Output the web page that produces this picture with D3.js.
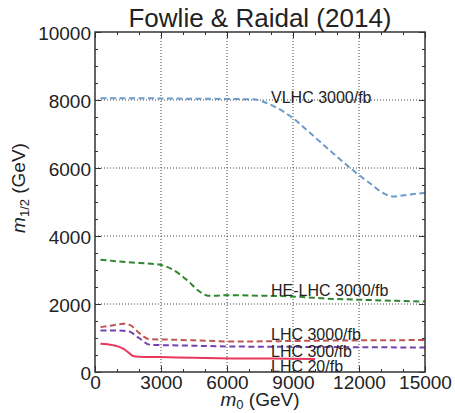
<!DOCTYPE html>
<html>
<head>
<meta charset="utf-8">
<script src="https://cdn.jsdelivr.net/npm/d3@7"></script>
<style>
  body { margin: 0; background: #fff; }
  text { font-family: "Liberation Sans", Arial, sans-serif; fill: #222; }
</style>
</head>
<body>
<div id="chart"></div>
<script>
const margin = { top: 32, right: 30, bottom: 41, left: 95 };
const width = 455 - margin.left - margin.right;
const height = 413 - margin.top - margin.bottom;

// values (GeV)
const vlhcM0  = [250, 2000, 4000, 6000, 7200, 7650, 8180, 9010, 9620, 10230, 10830, 11440, 11900, 12500, 13100, 13560, 14170, 15000];
const vlhcM12 = [8050, 8050, 8040, 8030, 8020, 7950, 7800, 7460, 7120, 6770, 6430, 6090, 5840, 5550, 5260, 5160, 5210, 5270];

const heM0  = [250, 1500, 3000, 3560, 4170, 4770, 5150, 5400, 6000, 7000, 9300, 10500, 12300, 15000];
const heM12 = [3300, 3230, 3150, 3000, 2710, 2360, 2240, 2240, 2260, 2250, 2210, 2160, 2120, 2070];

const lhc3000M0  = [250, 800, 1300, 1600, 2000, 2450, 3500, 5000, 6300, 8000, 10000, 12000, 15000];
const lhc3000M12 = [1320, 1370, 1420, 1380, 1150, 970, 950, 920, 895, 905, 920, 930, 940];

const lhc300M0  = [250, 1000, 1500, 2000, 2500, 4000, 6300, 9000, 12000, 15000];
const lhc300M12 = [1220, 1220, 1200, 1000, 800, 780, 750, 740, 730, 720];

const lhc20M0  = [250, 800, 1300, 1550, 1700, 2000, 2900, 4500, 6300, 8000, 10000];
const lhc20M12 = [830, 790, 680, 560, 480, 450, 440, 420, 400, 395, 385];

const labelText = ["VLHC 3000/fb", "HE-LHC 3000/fb", "LHC 3000/fb", "LHC 300/fb", "LHC 20/fb"];
const labelM0   = [8000, 8000, 8000, 8000, 8000];
const labelM12  = [7900, 2240, 940, 430, 10];

const xTicks = [0, 3000, 6000, 9000, 12000, 15000];
const yTicks = [0, 2000, 4000, 6000, 8000, 10000];

const series = [
  { m0: vlhcM0, m12: vlhcM12, color: "#6a9bcb", dash: "6,3.5" },
  { m0: heM0, m12: heM12, color: "#2e872e", dash: "6,3.5" },
  { m0: lhc3000M0, m12: lhc3000M12, color: "#bf5553", dash: "6,3.5" },
  { m0: lhc300M0, m12: lhc300M12, color: "#7540b0", dash: "6,3.5" },
  { m0: lhc20M0, m12: lhc20M12, color: "#e8365e", dash: null }
];

const svg = d3.select("#chart")
    .append("svg")
    .attr("width", 455)
    .attr("height", 413)
    .append("g")
    .attr("transform", `translate(${margin.left},${margin.top})`);

const x = d3.scaleLinear().domain([0, 15000]).range([0, width]);
const y = d3.scaleLinear().domain([0, 10000]).range([height, 0]);

// grid
svg.append("g")
    .selectAll("line")
    .data(xTicks.slice(1, -1))
    .enter()
    .append("line")
    .attr("x1", d => x(d)).attr("x2", d => x(d))
    .attr("y1", 0).attr("y2", height)
    .attr("stroke", "#444")
    .attr("stroke-width", 1)
    .attr("stroke-dasharray", "1,2");

svg.append("g")
    .selectAll("line")
    .data(yTicks.slice(1, -1))
    .enter()
    .append("line")
    .attr("x1", 0).attr("x2", width)
    .attr("y1", d => y(d)).attr("y2", d => y(d))
    .attr("stroke", "#444")
    .attr("stroke-width", 1)
    .attr("stroke-dasharray", "1,2");

// curves
const line = d3.line()
    .x(d => x(d[0]))
    .y(d => y(d[1]))
    .curve(d3.curveMonotoneX);

series.forEach(s => {
  svg.append("path")
      .datum(s.m0.map((v, i) => [v, s.m12[i]]))
      .attr("d", line)
      .attr("fill", "none")
      .attr("stroke", s.color)
      .attr("stroke-width", 2)
      .attr("stroke-dasharray", s.dash);
});

// line labels
svg.append("g")
    .selectAll("text")
    .data(labelText)
    .enter()
    .append("text")
    .attr("x", (d, i) => x(labelM0[i]))
    .attr("y", (d, i) => y(labelM12[i]))
    .attr("font-size", "16px")
    .text(d => d);

// axes, ticks pointing inward
const xMinor = d3.range(0, 15001, 1000);
const yMinor = d3.range(0, 10001, 500);

svg.append("g")
    .attr("transform", `translate(0,${height})`)
    .call(d3.axisBottom(x).tickValues(xMinor).tickSize(-3).tickFormat(""))
    .call(g => g.select(".domain").remove());
svg.append("g")
    .call(d3.axisTop(x).tickValues(xMinor).tickSize(-3).tickFormat(""))
    .call(g => g.select(".domain").remove());
svg.append("g")
    .call(d3.axisLeft(y).tickValues(yMinor).tickSize(-3).tickFormat(""))
    .call(g => g.select(".domain").remove());
svg.append("g")
    .attr("transform", `translate(${width},0)`)
    .call(d3.axisRight(y).tickValues(yMinor).tickSize(-3).tickFormat(""))
    .call(g => g.select(".domain").remove());

const xAxis = svg.append("g")
    .attr("transform", `translate(0,${height})`)
    .call(d3.axisBottom(x).tickValues(xTicks).tickSize(-6).tickPadding(4).tickFormat(d3.format("d")));
xAxis.select(".domain").remove();
xAxis.selectAll("text").attr("font-size", "19px").attr("fill", "#222");

const yAxis = svg.append("g")
    .call(d3.axisLeft(y).tickValues(yTicks).tickSize(-6).tickPadding(4).tickFormat(d3.format("d")));
yAxis.select(".domain").remove();
yAxis.selectAll("text").attr("font-size", "19px").attr("fill", "#222").attr("dy", "0.4em");

svg.append("g")
    .call(d3.axisTop(x).tickValues(xTicks).tickSize(-6).tickFormat(""))
    .call(g => g.select(".domain").remove());
svg.append("g")
    .attr("transform", `translate(${width},0)`)
    .call(d3.axisRight(y).tickValues(yTicks).tickSize(-6).tickFormat(""))
    .call(g => g.select(".domain").remove());

svg.selectAll(".tick line").attr("stroke", "#333");

// frame
svg.append("rect")
    .attr("width", width)
    .attr("height", height)
    .attr("fill", "none")
    .attr("stroke", "#333")
    .attr("stroke-width", 1.5);

// titles
svg.append("text")
    .attr("x", width / 2)
    .attr("y", -5)
    .attr("text-anchor", "middle")
    .attr("font-size", "26px")
    .text("Fowlie & Raidal (2014)");

const xLabel = svg.append("text")
    .attr("x", width / 2)
    .attr("y", height + 34)
    .attr("text-anchor", "middle")
    .attr("font-size", "19px");
xLabel.append("tspan").attr("font-style", "italic").text("m");
xLabel.append("tspan").attr("font-size", "13px").attr("dy", "3").text("0");
xLabel.append("tspan").attr("dy", "-3").text(" (GeV)");

const yLabel = svg.append("text")
    .attr("transform", `translate(${-70},${156}) rotate(-90)`)
    .attr("text-anchor", "middle")
    .attr("font-size", "19px");
yLabel.append("tspan").attr("font-style", "italic").text("m");
yLabel.append("tspan").attr("font-size", "13px").attr("dy", "4").text("1/2");
yLabel.append("tspan").attr("dy", "-4").text(" (GeV)");
</script>
</body>
</html>
